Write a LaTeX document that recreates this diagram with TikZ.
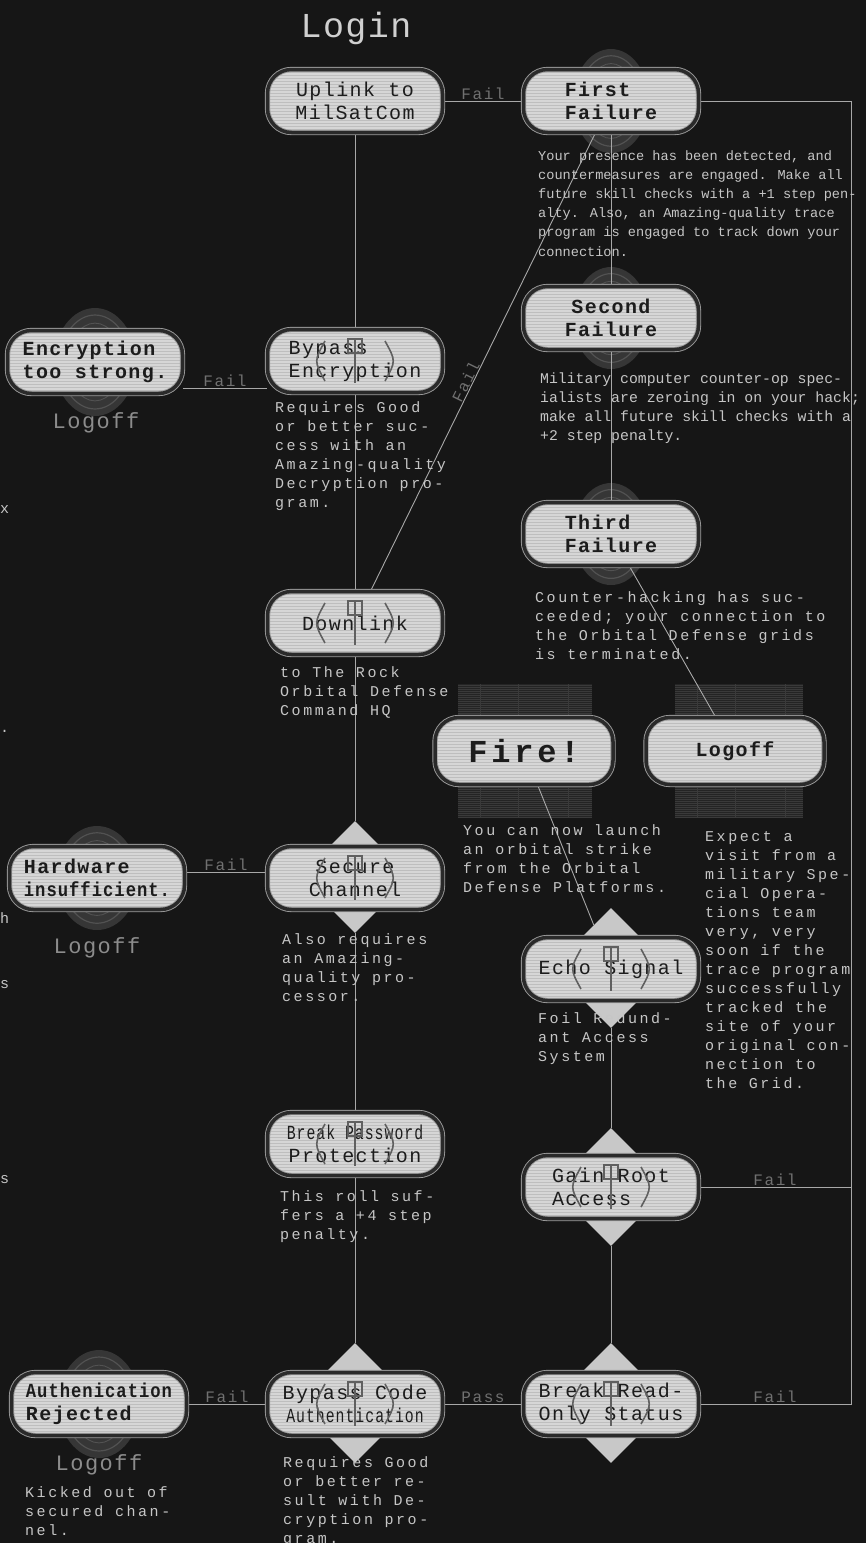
\documentclass[tikz,border=0pt]{standalone}
\usepackage{fontspec}
\usetikzlibrary{shapes.geometric,patterns,calc}
\pgfdeclarelayer{bg}
\pgfdeclarelayer{wires}
\pgfsetlayers{bg,wires,main}
\newfontfamily\mono{Liberation Mono}
\newfontfamily\nodef[LetterSpace=7]{Liberation Mono}
\newfontfamily\nodefc[LetterSpace=5,FakeStretch=0.74]{Liberation Mono}
\newfontfamily\nodefm[LetterSpace=5,FakeStretch=0.86]{Liberation Mono}
\newfontfamily\descf[LetterSpace=17]{Liberation Mono}
\newfontfamily\titlef[LetterSpace=4]{Liberation Mono}
\newfontfamily\firef[LetterSpace=12]{Liberation Mono}
\newfontfamily\lblf[LetterSpace=10]{Liberation Mono}
\newfontfamily\logf[LetterSpace=7]{Liberation Mono}
\definecolor{bgc}{HTML}{161616}
\definecolor{wirec}{HTML}{A8A8A8}
\definecolor{nfill}{HTML}{D6D6D6}
\definecolor{scan}{HTML}{BEBEBE}
\definecolor{ring}{HTML}{9C9C9C}
\definecolor{band}{HTML}{2A2A2A}
\definecolor{ntext}{HTML}{1C1C1C}
\definecolor{dtext}{HTML}{C6C6C6}
\definecolor{lblc}{HTML}{707070}
\definecolor{logc}{HTML}{8C8C8C}
\definecolor{emb}{HTML}{363636}
\definecolor{embl}{HTML}{525252}
\definecolor{diac}{HTML}{C8C8C8}
\definecolor{gridbg}{HTML}{242424}
\definecolor{gridln}{HTML}{3A3A3A}
\definecolor{ghostc}{HTML}{606060}
\definecolor{titlec}{HTML}{D0D0D0}
\tikzset{
  box/.style={rectangle, rounded corners=24pt, minimum width=175pt, minimum height=63pt,
    inner sep=2pt, preaction={fill=nfill}, pattern=horizontal lines, pattern color=scan,
    draw=ring, double=band, double distance=3.5pt, line width=0.9pt, text=ntext,
    font=\nodef\fontsize{20}{23}\selectfont},
  boldtxt/.style={font=\nodef\bfseries\fontsize{20}{23}\selectfont},
  bigbox/.style={box, minimum width=178pt, minimum height=67pt},
  dshape/.style={diamond, aspect=1, minimum width=#1, minimum height=#1, inner sep=0pt, fill=diac},
  wire/.style={draw=wirec, line width=0.9pt},
  lbl/.style={text=lblc, font=\lblf\fontsize{16}{16}\selectfont, inner sep=0.5pt, above},
  desc/.style={text=dtext, align=left, anchor=north west, inner sep=0pt,
    font=\descf\fontsize{15}{19}\selectfont},
  logsm/.style={text=logc, font=\logf\fontsize{22}{22}\selectfont, inner sep=0pt},
  frag/.style={text=dtext, font=\descf\fontsize{15}{19}\selectfont, inner sep=0pt, anchor=west},
  ghost/.pic={
    \draw[ghostc, line width=1.6pt] (-30,-20) .. controls (-41,0) .. (-30,20);
    \draw[ghostc, line width=1.6pt] (30,-20) .. controls (41,0) .. (30,20);
    \draw[ghostc, line width=1.4pt] (-7,-22) rectangle (7,-8);
    \draw[ghostc, line width=1.4pt] (0,-22) -- (0,22);
  }
}
\newcommand\emblemdraw[4]{%
  \fill[emb] (#1,#2) ellipse [x radius=#3, y radius=#4];
  \draw[embl, line width=1.2pt] (#1,#2) ellipse [x radius=#3*0.85, y radius=#4*0.87];
  \draw[embl, line width=0.9pt] (#1,#2) ellipse [x radius=#3*0.65, y radius=#4*0.72];}
\newcommand\gridrect[4]{%
  \fill[gridbg] (#1,#2) rectangle (#3,#4);
  \foreach \yy in {#2,...,#4} {\ifodd\yy\draw[gridln, line width=0.6pt] (#1,\yy) -- (#3,\yy);\fi}
  \foreach \xx in {#1} {\draw[gridln, line width=0.8pt] (\xx+22,#2) -- (\xx+22,#4);
    \draw[gridln, line width=0.8pt] (\xx+60,#2) -- (\xx+60,#4);
    \draw[gridln, line width=0.8pt] (\xx+110,#2) -- (\xx+110,#4);}}
\begin{document}
\begin{tikzpicture}[x=1pt,y=-1pt]
\useasboundingbox (0,0) rectangle (866,1543);
\begin{pgfonlayer}{bg}
  \fill[bgc] (0,0) rectangle (866,1543);
\end{pgfonlayer}

% ---------- main nodes ----------
\node[text=titlec, font=\titlef\fontsize{35}{35}\selectfont, inner sep=0pt] (title) at (356,28) {Login};

\node[box, align=center] (uplink) at (355,101) {Uplink to\\MilSatCom};
\node[box, boldtxt, align=left] (first) at (611,101) {First\\Failure};
\node[box, boldtxt, align=left] (enc) at (95,362) {Encryption\\too strong.};
\node[box, align=left] (bypassenc) at (355,361) {Bypass\\Encryption};
\node[box, boldtxt, align=center] (second) at (611,318) {Second\\Failure};
\node[box, boldtxt, align=left] (third) at (611,534) {Third\\Failure};
\node[box] (downlink) at (355,623) {Downlink};
\node[bigbox, font=\firef\bfseries\fontsize{32}{32}\selectfont] (fire) at (524,751) {Fire!};
\node[bigbox, boldtxt] (logoffbig) at (735,751) {Logoff};
\node[box, boldtxt, align=left] (hw) at (97,878) {Hardware\\{\nodefm insufficient.}};
\node[box, align=center] (secure) at (355,878) {Secure\\Channel};
\node[box] (echo) at (611,969) {Echo Signal};
\node[box, align=center] (breakpwd) at (355,1144) {{\nodefc Break Password}\\Protection};
\node[box, align=left] (gain) at (611,1187) {Gain Root\\Access};
\node[box, boldtxt, align=left] (auth) at (99,1404) {{\nodefm\bfseries Authenication}\\Rejected};
\node[box, align=center] (bypasscode) at (355,1404) {Bypass Code\\{\nodefc Authentication}};
\node[box, align=left] (breakro) at (611,1404) {Break Read-\\Only Status};

% ---------- background decorations ----------
\begin{pgfonlayer}{bg}
  \emblemdraw{611}{101}{38}{52}
  \emblemdraw{611}{318}{38}{51}
  \emblemdraw{611}{534}{38}{51}
  \emblemdraw{95}{362}{41}{54}
  \emblemdraw{97}{878}{41}{52}
  \emblemdraw{99}{1404}{41}{54}
  \gridrect{458}{684}{592}{818}
  \gridrect{675}{684}{803}{818}
  \node[dshape=112pt] (secD) at (355,877) {};
  \node[dshape=120pt] (echoD) at (611,968) {};
  \node[dshape=118pt] (gainD) at (611,1187) {};
  \node[dshape=120pt] (codeD) at (355,1403) {};
  \node[dshape=120pt] (roD) at (611,1403) {};
\end{pgfonlayer}

% ---------- connectors ----------
\coordinate (rt) at (851,101);
\coordinate (rg) at (851,1187);
\coordinate (rb) at (851,1404);
\begin{pgfonlayer}{wires}
  \draw[wire] (uplink) -- node[lbl]{Fail} (first);
  \draw[wire] (uplink) -- (bypassenc);
  \draw[wire] (bypassenc) -- (downlink);
  \draw[wire] (downlink) -- (secD);
  \draw[wire] (secD) -- (breakpwd);
  \draw[wire] (breakpwd) -- (codeD);
  \draw[wire] (enc.east |- 0,388) -- node[lbl]{Fail} (bypassenc.west |- 0,388);
  \draw[wire] (hw.east |- 0,872) -- node[lbl]{Fail} (secure.west |- 0,872);
  \draw[wire] (auth) -- node[lbl]{Fail} (bypasscode);
  \draw[wire] (bypasscode) -- node[lbl]{Pass} (breakro);
  \draw[wire] (breakro) -- node[lbl]{Fail} (rb) -- (rt) -- (first);
  \draw[wire] (gain) -- node[lbl]{Fail} (rg);
  \draw[wire] (downlink) -- node[lbl, sloped, pos=0.45]{Fail} (first);
  \draw[wire] (first) -- (second);
  \draw[wire] (second) -- (third);
  \draw[wire] (third) -- (logoffbig);
  \draw[wire] (fire) -- (echoD);
  \draw[wire] (echoD) -- (gainD);
  \draw[wire] (gainD) -- (roD);
\end{pgfonlayer}

% ---------- ghost glyphs over nodes ----------
\pic at (bypassenc) {ghost};
\pic at (downlink) {ghost};
\pic at (secure) {ghost};
\pic at (echo) {ghost};
\pic at (breakpwd) {ghost};
\pic at (gain) {ghost};
\pic at (bypasscode) {ghost};
\pic at (breakro) {ghost};

% ---------- descriptions ----------
\node[desc, font=\mono\fontsize{13.6}{19.2}\selectfont] (dfirst) at (538,150) {Your presence has been detected, and\\countermeasures are engaged. Make all\\future skill checks with a +1 step pen-\\alty. Also, an Amazing-quality trace\\program is engaged to track down your\\connection.};
\node[desc, font=\mono\fontsize{14.8}{19}\selectfont] (dsecond) at (540,373) {Military computer counter-op spec-\\ialists are zeroing in on your hack;\\make all future skill checks with a\\+2 step penalty.};
\node[desc] (dthird) at (535,591) {Counter-hacking has suc-\\ceeded; your connection to\\the Orbital Defense grids\\is terminated.};
\node[desc] (dbypassenc) at (275,401) {Requires Good\\or better suc-\\cess with an\\Amazing-quality\\Decryption pro-\\gram.};
\node[desc] (ddownlink) at (280,666) {to The Rock\\Orbital Defense\\Command HQ};
\node[desc] (dfire) at (463,824) {You can now launch\\an orbital strike\\from the Orbital\\Defense Platforms.};
\node[desc] (dlogoff) at (705,831) {Expect a\\visit from a\\military Spe-\\cial Opera-\\tions team\\very, very\\soon if the\\trace program\\successfully\\tracked the\\site of your\\original con-\\nection to\\the Grid.};
\node[desc] (dsecure) at (282,933) {Also requires\\an Amazing-\\quality pro-\\cessor.};
\node[desc] (decho) at (538,1012) {Foil Redund-\\ant Access\\System};
\node[desc] (dbreakpwd) at (280,1190) {This roll suf-\\fers a +4 step\\penalty.};
\node[desc] (dbypasscode) at (283,1456) {Requires Good\\or better re-\\sult with De-\\cryption pro-\\gram.};
\node[desc] (dauth) at (25,1486) {Kicked out of\\secured chan-\\nel.};

\node[logsm] (lg1) at (96,423) {Logoff};
\node[logsm] (lg2) at (97,948) {Logoff};
\node[logsm] (lg3) at (99,1465) {Logoff};

% ---------- fragments at the left edge ----------
\node[frag] (f1) at (0,510) {x};
\node[frag] (f2) at (0,731) {.};
\node[frag] (f3) at (0,918) {h};
\node[frag] (f4) at (0,985) {s};
\node[frag] (f5) at (0,1180) {s};
\end{tikzpicture}
\end{document}
